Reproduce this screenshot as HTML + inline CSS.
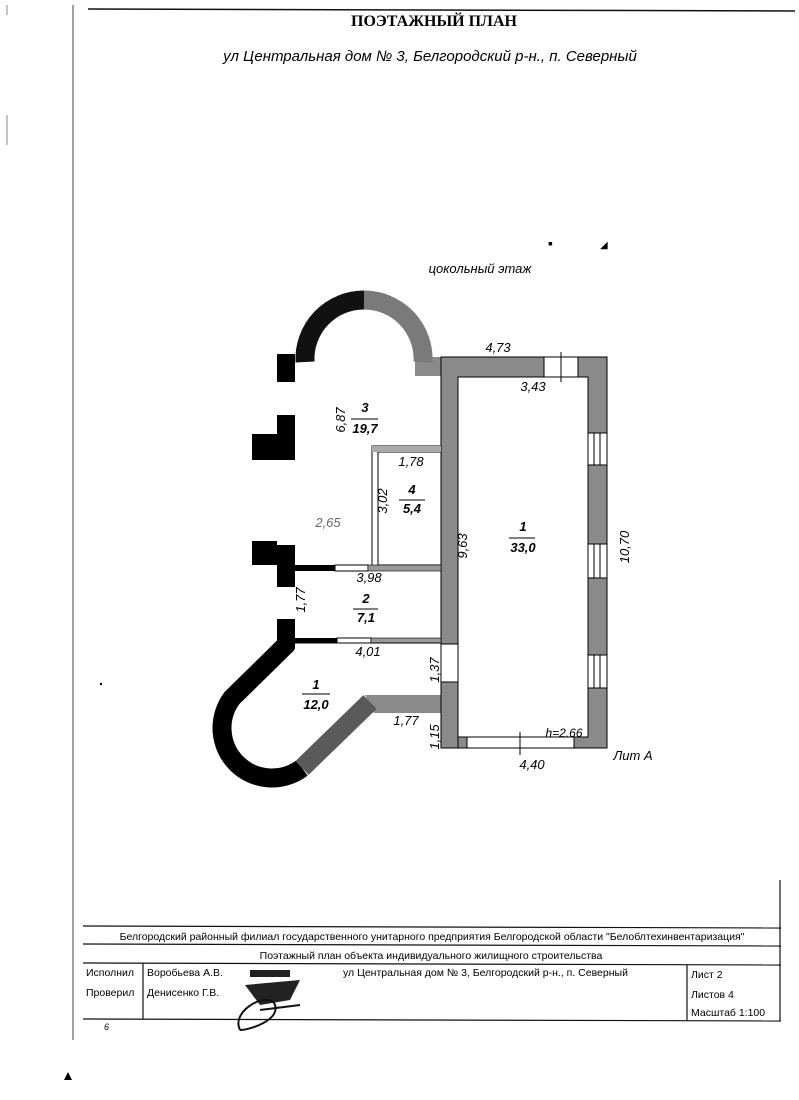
<!DOCTYPE html>
<html><head><meta charset="utf-8"><style>
html,body{margin:0;padding:0;background:#fff;}
svg{display:block}
text{font-family:"Liberation Sans",sans-serif;}
</style></head><body>
<svg width="799" height="1100" viewBox="0 0 799 1100" xmlns="http://www.w3.org/2000/svg">
<!-- page borders -->
<line x1="88" y1="9" x2="795" y2="11" stroke="#111" stroke-width="1.5"/>
<line x1="73" y1="5" x2="73" y2="1040" stroke="#444" stroke-width="1"/>
<line x1="7" y1="5" x2="7" y2="15" stroke="#888"/>
<line x1="7" y1="115" x2="7" y2="145" stroke="#888"/>
<text x="434" y="26" font-family="Liberation Serif" font-weight="bold" font-size="16" text-anchor="middle" style="font-family:'Liberation Serif',serif">ПОЭТАЖНЫЙ ПЛАН</text>
<text x="430" y="61" font-size="15" font-style="italic" text-anchor="middle">ул Центральная дом № 3, Белгородский р-н., п. Северный</text>
<text x="480" y="273" font-size="13" font-style="italic" text-anchor="middle">цокольный этаж</text>

<!-- right block gray walls -->
<rect x="441" y="357" width="166" height="391" fill="#8a8a8a"/>
<rect x="415" y="357" width="30" height="19" fill="#8a8a8a"/>
<rect x="458" y="377" width="130" height="360" fill="#fff" stroke="#000" stroke-width="1"/>
<rect x="441" y="357" width="166" height="391" fill="none" stroke="#000" stroke-width="1"/>
<!-- windows -->
<rect x="544" y="357" width="34" height="20" fill="#fff" stroke="#000"/>
<line x1="561" y1="352" x2="561" y2="382" stroke="#000"/>
<g fill="#fff" stroke="#000">
<rect x="588" y="433" width="19" height="32"/><rect x="588" y="544" width="19" height="34"/><rect x="588" y="655" width="19" height="33"/>
<rect x="467" y="737" width="107" height="11"/>
</g>
<g stroke="#000"><line x1="594" y1="433" x2="594" y2="465"/><line x1="600" y1="433" x2="600" y2="465"/>
<line x1="594" y1="544" x2="594" y2="578"/><line x1="600" y1="544" x2="600" y2="578"/>
<line x1="594" y1="655" x2="594" y2="688"/><line x1="600" y1="655" x2="600" y2="688"/>
<line x1="520" y1="732" x2="520" y2="755"/></g>
<!-- door in left wall -->
<rect x="441" y="644" width="17" height="38" fill="#fff" stroke="#000"/>
<!-- lower gray wall -->
<polygon points="365,695 441,695 441,748 458,748 458,713 374,713" fill="#8a8a8a"/>
<rect x="441" y="682" width="17" height="66" fill="#8a8a8a" stroke="#000"/>
<!-- room 4 -->
<rect x="372" y="446" width="69" height="121" fill="none" stroke="#000"/>
<rect x="378" y="452" width="63" height="113" fill="#fff" stroke="#000"/>
<rect x="372" y="446" width="69" height="6" fill="#aaa"/>
<!-- room 2 walls -->
<rect x="295" y="565" width="40" height="6" fill="#000"/>
<rect x="335" y="565" width="33" height="6" fill="#fff" stroke="#000"/>
<rect x="368" y="565" width="73" height="6" fill="#999" stroke="#000" stroke-width="0.6"/>
<rect x="295" y="638" width="42" height="5" fill="#000"/>
<rect x="337" y="638" width="34" height="5" fill="#fff" stroke="#000"/>
<rect x="371" y="638" width="70" height="5" fill="#999" stroke="#000" stroke-width="0.6"/>
<line x1="295" y1="643" x2="441" y2="643" stroke="#000"/>
<!-- top arc -->
<path d="M305 362 A59 59 0 0 1 364 300" fill="none" stroke="#111" stroke-width="19"/>
<path d="M364 300 A59 59 0 0 1 423 362" fill="none" stroke="#7a7a7a" stroke-width="19"/>
<!-- black pieces -->
<g fill="#000">
<rect x="277" y="354" width="18" height="28"/>
<rect x="277" y="415" width="18" height="45"/><rect x="252" y="434" width="25" height="26"/>
<rect x="252" y="541" width="25" height="24"/><rect x="277" y="545" width="18" height="42"/>
<rect x="277" y="619" width="18" height="30"/>
</g>
<!-- lower arc -->
<path d="M288 643 L232 698 A50 50 0 0 0 302 768" fill="none" stroke="#000" stroke-width="19"/>
<path d="M302 768 L370 702" fill="none" stroke="#5a5a5a" stroke-width="19"/>

<!-- labels -->
<g font-style="italic" font-size="13">
<text x="498" y="352" text-anchor="middle">4,73</text>
<text x="533" y="391" text-anchor="middle">3,43</text>
<text x="365" y="412" text-anchor="middle" font-weight="bold">3</text>
<line x1="351" y1="419" x2="378" y2="419" stroke="#000"/>
<text x="365" y="433" text-anchor="middle" font-weight="bold">19,7</text>
<text x="345" y="420" text-anchor="middle" transform="rotate(-90 345 420)">6,87</text>
<text x="411" y="466" text-anchor="middle">1,78</text>
<text x="387" y="501" text-anchor="middle" transform="rotate(-90 387 501)">3,02</text>
<text x="412" y="494" text-anchor="middle" font-weight="bold">4</text>
<line x1="399" y1="500" x2="425" y2="500" stroke="#000"/>
<text x="412" y="513" text-anchor="middle" font-weight="bold">5,4</text>
<text x="328" y="527" text-anchor="middle" fill="#666">2,65</text>
<text x="467" y="546" text-anchor="middle" transform="rotate(-90 467 546)">9,63</text>
<text x="523" y="531" text-anchor="middle" font-weight="bold">1</text>
<line x1="509" y1="538" x2="535" y2="538" stroke="#000"/>
<text x="523" y="552" text-anchor="middle" font-weight="bold">33,0</text>
<text x="629" y="547" text-anchor="middle" transform="rotate(-90 629 547)">10,70</text>
<text x="369" y="582" text-anchor="middle">3,98</text>
<text x="305" y="600" text-anchor="middle" transform="rotate(-90 305 600)">1,77</text>
<text x="366" y="603" text-anchor="middle" font-weight="bold">2</text>
<line x1="353" y1="609" x2="378" y2="609" stroke="#000"/>
<text x="366" y="622" text-anchor="middle" font-weight="bold">7,1</text>
<text x="368" y="656" text-anchor="middle">4,01</text>
<text x="439" y="670" text-anchor="middle" transform="rotate(-90 439 670)">1,37</text>
<text x="316" y="689" text-anchor="middle" font-weight="bold">1</text>
<line x1="302" y1="694" x2="330" y2="694" stroke="#000"/>
<text x="316" y="709" text-anchor="middle" font-weight="bold">12,0</text>
<text x="406" y="725" text-anchor="middle">1,77</text>
<text x="439" y="737" text-anchor="middle" transform="rotate(-90 439 737)">1,15</text>
<text x="564" y="737" text-anchor="middle" font-size="12">h=2.66</text>
<text x="532" y="769" text-anchor="middle">4,40</text>
<text x="633" y="760" text-anchor="middle">Лит А</text>
</g>
<text x="548" y="248" font-size="14">▪</text><text x="600" y="248" font-size="10">◢</text>
<circle cx="101" cy="684" r="1.2" fill="#000"/>

<!-- stamp table -->
<g stroke="#111" stroke-width="1.2" fill="none">
<line x1="83" y1="926" x2="781" y2="928"/>
<line x1="83" y1="944" x2="781" y2="946"/>
<line x1="83" y1="963" x2="781" y2="965"/>
<line x1="83" y1="1019" x2="781" y2="1021"/>
<line x1="143" y1="963" x2="143" y2="1019"/>
<line x1="687" y1="965" x2="687" y2="1021"/>
<line x1="780" y1="880" x2="780" y2="1021"/>
</g>
<g font-size="10.5">
<text x="432" y="940" text-anchor="middle">Белгородский районный филиал государственного унитарного предприятия Белгородской области "Белоблтехинвентаризация"</text>
<text x="431" y="959" text-anchor="middle">Поэтажный план объекта индивидуального жилищного строительства</text>
<text x="86" y="976">Исполнил</text>
<text x="86" y="996">Проверил</text>
<text x="147" y="976">Воробьева А.В.</text>
<text x="147" y="996">Денисенко Г.В.</text>
<text x="343" y="976">ул Центральная дом № 3, Белгородский р-н., п. Северный</text>
<text x="691" y="978">Лист  2</text>
<text x="691" y="998">Листов  4</text>
<text x="691" y="1016">Масштаб 1:100</text>
<text x="104" y="1030" font-size="9" font-style="italic">6</text>
</g>
<rect x="250" y="970" width="40" height="7" fill="#222"/>
<path d="M245 985 L300 980 L290 1000 L260 1005 Z" fill="#222"/>
<path d="M240 1030 C230 1010 270 990 275 1005 C280 1020 250 1030 240 1030 M260 1010 L300 1005" stroke="#111" stroke-width="2" fill="none"/>
<polygon points="64,1080 68,1072 72,1080" fill="#000"/>
</svg>
</body></html>
